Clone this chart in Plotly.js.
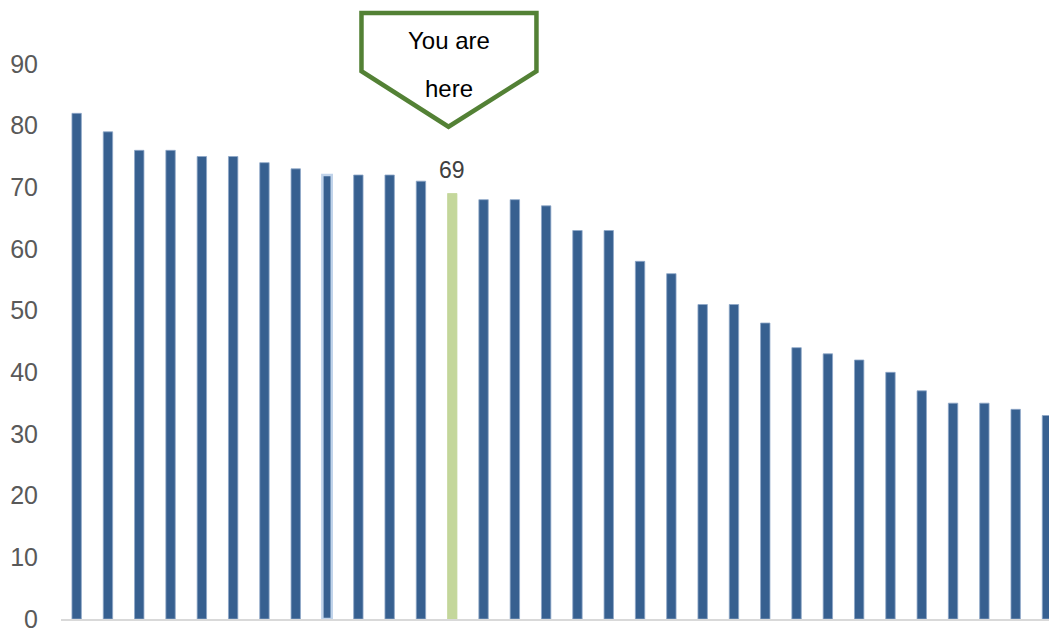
<!DOCTYPE html>
<html>
<head>
<meta charset="utf-8">
<script src="https://cdn.plot.ly/plotly-3.0.1.min.js"></script>
<style>html,body{margin:0;padding:0;background:#fff;}#chart{width:1049px;height:631px;}</style>
</head>
<body>
<div id="chart"></div>
<script>
// Data
const categories = Array.from({length: 32}, (_, i) => i);
const values = [82, 79, 76, 76, 75, 75, 74, 73, 72, 72, 72, 71, 69, 68, 68, 67,
                63, 63, 58, 56, 51, 51, 48, 44, 43, 42, 40, 37, 35, 35, 34, 33];
const youAreHereIndex = 12;
const outlinedIndex = 8;
const yTicks = [0, 10, 20, 30, 40, 50, 60, 70, 80, 90];
const calloutLines = ["You are", "here"];

const barColor = '#376090';
const fillColors = values.map((v, i) => i === youAreHereIndex ? '#c4d79b' : barColor);
const lineColors = values.map((v, i) => i === youAreHereIndex ? '#c4d79b' : (i === outlinedIndex ? '#c0d3ea' : '#8ea7c8'));
const lineWidths = values.map((v, i) => i === outlinedIndex ? 2.5 : 0.8);

const trace = {
  type: 'bar',
  x: categories,
  y: values,
  width: 0.3,
  marker: {color: fillColors, line: {color: lineColors, width: lineWidths}},
  hoverinfo: 'skip'
};

const xc = categories[youAreHereIndex] - 0.12;
const layout = {
  width: 1049, height: 631,
  margin: {l: 61, r: 0, t: 64, b: 12, pad: 0},
  paper_bgcolor: '#fff', plot_bgcolor: '#fff',
  showlegend: false,
  font: {family: 'Liberation Sans, Arial, sans-serif'},
  xaxis: {
    range: [-0.5, 31.065], showticklabels: false, ticks: '', showgrid: false,
    zeroline: false, showline: true, linecolor: '#d9d9d9', linewidth: 1.5
  },
  yaxis: {
    range: [0, 90], tickvals: yTicks, ticktext: yTicks.map(String),
    showgrid: false, zeroline: false, showline: false, ticks: '',
    ticklabelstandoff: 22, ticklabeloverflow: 'allow',
    tickfont: {size: 25, color: '#595959', family: 'Liberation Sans, Arial, sans-serif'}
  },
  shapes: [{
    type: 'path', xref: 'x', yref: 'paper',
    path: `M ${xc - 2.78},1.092 L ${xc + 2.81},1.092 L ${xc + 2.81},0.987 L ${xc},0.887 L ${xc - 2.78},0.987 Z`,
    line: {color: '#538135', width: 4.5}, fillcolor: '#ffffff', layer: 'above'
  }],
  annotations: [
    {xref: 'x', yref: 'paper', x: xc, y: 1.043, text: calloutLines[0], showarrow: false,
     font: {size: 24, color: '#000'}, xanchor: 'center', yanchor: 'middle'},
    {xref: 'x', yref: 'paper', x: xc, y: 0.955, text: calloutLines[1], showarrow: false,
     font: {size: 24, color: '#000'}, xanchor: 'center', yanchor: 'middle'},
    {xref: 'x', yref: 'y', x: categories[youAreHereIndex], y: values[youAreHereIndex],
     text: String(values[youAreHereIndex]), showarrow: false, yanchor: 'bottom', yshift: 9,
     font: {size: 23, color: '#404040'}}
  ]
};

Plotly.newPlot('chart', [trace], layout, {staticPlot: true, displayModeBar: false});
</script>
</body>
</html>
